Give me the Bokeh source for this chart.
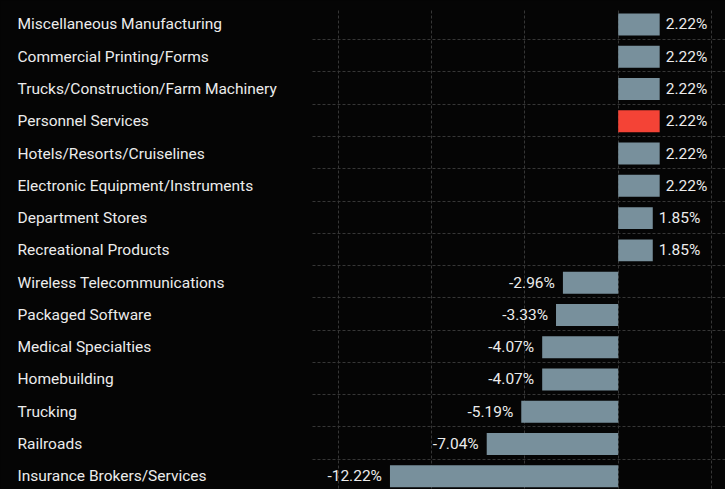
from bokeh.plotting import figure
from bokeh.models import Range1d, FixedTicker, ColumnDataSource, GlobalInlineStyleSheet
from bokeh.core.properties import value
from bokeh.embed import file_html
from bokeh.resources import INLINE

categories = [
    "Miscellaneous Manufacturing",
    "Commercial Printing/Forms",
    "Trucks/Construction/Farm Machinery",
    "Personnel Services",
    "Hotels/Resorts/Cruiselines",
    "Electronic Equipment/Instruments",
    "Department Stores",
    "Recreational Products",
    "Wireless Telecommunications",
    "Packaged Software",
    "Medical Specialties",
    "Homebuilding",
    "Trucking",
    "Railroads",
    "Insurance Brokers/Services",
]
values = [2.22, 2.22, 2.22, 2.22, 2.22, 2.22, 1.85, 1.85,
          -2.96, -3.33, -4.07, -4.07, -5.19, -7.04, -12.22]
highlight = "Personnel Services"
grid_ticks = [-15, -10, -5, 0, 5]

BG = "#050505"
GREY = "#78909c"
RED = "#f44336"
TXT = "#ececec"
FONT = "Roboto"

rows = list(range(len(categories)))
colors = [RED if c == highlight else GREY for c in categories]
labels = [f"{v:.2f}%" for v in values]

src = ColumnDataSource(dict(y=rows, cat=categories, v=values, color=colors, lab=labels))
pos_src = ColumnDataSource(dict(y=[r for r, v in zip(rows, values) if v >= 0],
                                v=[v for v in values if v >= 0],
                                lab=[l for l, v in zip(labels, values) if v >= 0]))
neg_src = ColumnDataSource(dict(y=[r for r, v in zip(rows, values) if v < 0],
                                v=[v for v in values if v < 0],
                                lab=[l for l, v in zip(labels, values) if v < 0]))

X0, X1 = -33.07, 5.744
p = figure(width=725, height=489, output_backend="svg", toolbar_location=None,
           x_range=Range1d(X0, X1), y_range=Range1d(14.41, -0.7437),
           min_border=0, min_border_left=0, min_border_right=0,
           min_border_top=0, min_border_bottom=0)
p.stylesheets = [GlobalInlineStyleSheet(css=f"body {{ background-color: {BG}; }}")]
p.background_fill_color = BG
p.border_fill_color = BG
p.outline_line_color = None
p.xaxis.visible = False
p.yaxis.visible = False

p.xgrid.ticker = FixedTicker(ticks=grid_ticks)
p.xgrid.grid_line_color = "#363636"
p.xgrid.grid_line_dash = "3 2"
p.xgrid.grid_line_width = 1
p.xgrid.cross_bounds = (-0.43, 15)
p.ygrid.ticker = FixedTicker(ticks=[r + 0.47 for r in rows[:-1]])
p.ygrid.grid_line_color = "#363636"
p.ygrid.grid_line_dash = "3 2"
p.ygrid.grid_line_width = 1
p.ygrid.cross_bounds = (-16.36, 6)

p.hbar(y="y", right="v", left=0, height=0.68, fill_color="color",
       line_color=None, source=src)

p.text(x=X0, y="y", text="cat", source=src, x_offset=17,
       text_font=value(FONT), text_font_size="15.5px", text_color=TXT,
       text_align="left", text_baseline="middle")
p.text(x="v", y="y", text="lab", source=pos_src, x_offset=6,
       text_font=value(FONT), text_font_size="15.5px", text_color=TXT,
       text_align="left", text_baseline="middle")
p.text(x="v", y="y", text="lab", source=neg_src, x_offset=-8,
       text_font=value(FONT), text_font_size="15.5px", text_color=TXT,
       text_align="right", text_baseline="middle")

open("out.html", "w").write(file_html(p, INLINE))
